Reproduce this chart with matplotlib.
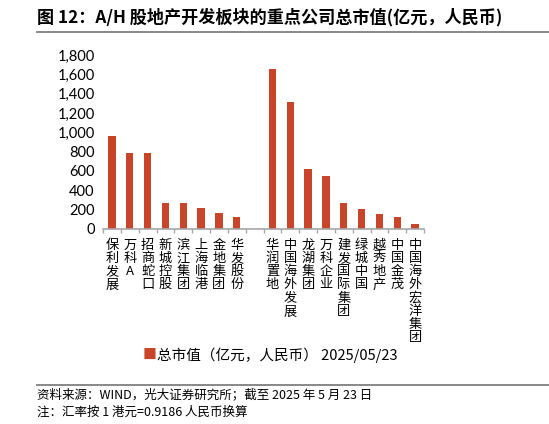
import numpy as np
import matplotlib.pyplot as plt
from matplotlib.lines import Line2D

plt.rcParams['font.family'] = ['Noto Sans CJK SC', 'DejaVu Sans']

# 数据（从图中读取，单位：亿元人民币）
companies = ['保利发展', '万科A', '招商蛇口', '新城控股', '滨江集团', '上海临港', '金地集团', '华发股份',
             '',
             '华润置地', '中国海外发展', '龙湖集团', '万科企业', '建发国际集团', '绿城中国', '越秀地产',
             '中国金茂', '中国海外宏洋集团']
market_cap = [964, 786, 786, 273, 272, 219, 167, 129,
              np.nan,
              1652, 1315, 624, 552, 266, 211, 160, 119, 50]
yticks = [0, 200, 400, 600, 800, 1000, 1200, 1400, 1600, 1800]

bar_color = '#C8442A'
grey = '#A6A6A6'

fig = plt.figure(figsize=(5.49, 4.24), dpi=100)
ax = fig.add_axes([103 / 549, 1 - 229 / 424, 321 / 549, 174 / 424])

x = np.arange(len(companies))
ax.bar(x, market_cap, width=0.42, color=bar_color)

ax.set_xlim(-0.5, len(companies) - 0.5)
ax.set_ylim(0, 1800)
ax.set_yticks(yticks)
ax.set_yticklabels([f'{v:,}' for v in yticks], fontsize=10.5, family=['Lato', 'DejaVu Sans'])
ax.tick_params(axis='y', length=0, pad=6)

# 竖排类别标签
ax.set_xticks(x)
ax.set_xticklabels(['\n'.join(c) for c in companies], fontsize=9.5, linespacing=1.02, va='top')
ax.tick_params(axis='x', which='major', length=0, pad=7)
ax.set_xticks(np.arange(-0.5, len(companies)), minor=True)
ax.tick_params(axis='x', which='minor', length=3, color=grey, width=1, direction='out')

for s in ['top', 'right', 'left']:
    ax.spines[s].set_visible(False)
ax.spines['bottom'].set_color(grey)
ax.spines['bottom'].set_linewidth(1.2)

# 标题与分隔线
fig.text(37 / 549, 1 - 17 / 424, '图 12：A/H 股地产开发板块的重点公司总市值(亿元，人民币)',
         fontsize=12.3, fontweight='bold', va='center', ha='left')
fig.add_artist(Line2D([37 / 549, 1], [1 - 32 / 424] * 2, color='#7F7F7F', lw=1.3))

# 图例
fig.text(143 / 549, 1 - 355 / 424, '■', color=bar_color, fontsize=10, va='center', ha='left')
fig.text(157 / 549, 1 - 355 / 424, '总市值（亿元，人民币） 2025/05/23', fontsize=10.5, va='center', ha='left')

# 底部分隔线与来源
fig.add_artist(Line2D([37 / 549, 1], [1 - 385 / 424] * 2, color='#7F7F7F', lw=1.3))
fig.text(37 / 549, 1 - 395 / 424, '资料来源：WIND，光大证券研究所；截至 2025 年 5 月 23 日',
         fontsize=9, va='center', ha='left')
fig.text(37 / 549, 1 - 412 / 424, '注：汇率按 1 港元=0.9186 人民币换算',
         fontsize=9, va='center', ha='left')

fig.savefig('out.png', dpi=100)
